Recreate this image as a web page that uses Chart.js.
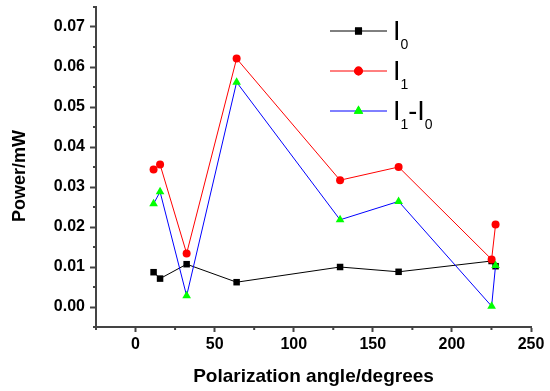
<!DOCTYPE html>
<html><head><meta charset="utf-8">
<script src="https://cdn.jsdelivr.net/npm/chart.js@4.4.1/dist/chart.umd.min.js"></script>
<style>html,body{margin:0;padding:0;background:#fff;}#wrap{width:550px;height:391px;position:relative;}</style>
</head><body><div id="wrap"><canvas id="c" width="550" height="391"></canvas></div>
<script>
// ---- data ----
const angles    = [11.4, 15.5, 32.3, 63.9, 129.3, 166.3, 225.1, 227.6];
const powerI0   = [0.0087, 0.0071, 0.0107, 0.0062, 0.0100, 0.0088, 0.0115, 0.0102];
const powerI1   = [0.0344, 0.0356, 0.0134, 0.0621, 0.0317, 0.0350, 0.0119, 0.0206];
const powerDiff = [0.0258, 0.0288, 0.0028, 0.0562, 0.0218, 0.0264, 0.0002, 0.0104];
const xTicks = [0, 50, 100, 150, 200, 250];
const xMinorTicks = [-25, 25, 75, 125, 175, 225];
const yTicks = [0, 0.01, 0.02, 0.03, 0.04, 0.05, 0.06, 0.07];
const yMinorTicks = [-0.005, 0.005, 0.015, 0.025, 0.035, 0.045, 0.055, 0.065, 0.075];
const xTitle = 'Polarization angle/degrees';
const yTitle = 'Power/mW';
// legend labels as [text, isSubscript] pieces
const legendLabels = [
  [['I', 0], ['0', 1]],
  [['I', 0], ['1', 1]],
  [['I', 0], ['1', 1], ['-', 0], ['I', 0], ['0', 1]]
];

const FONT = '"Liberation Sans", Arial, sans-serif';
const AXIS = '#444';

function pts(ys) { return angles.map((a, i) => ({x: a, y: ys[i]})); }

const datasets = [
  {label: 'I0', data: pts(powerI0), borderColor: '#000000', backgroundColor: '#000000',
   pointStyle: 'rect', pointRadius: 4.6, order: 3},
  {label: 'I1', data: pts(powerI1), borderColor: '#ff0000', backgroundColor: '#ff0000',
   pointStyle: 'circle', pointRadius: 4, order: 2},
  {label: 'I1-I0', data: pts(powerDiff), borderColor: '#0000ff', backgroundColor: '#00ff00',
   pointStyle: 'triangle', pointRadius: 5, order: 1}
].map(d => Object.assign({borderWidth: 1, tension: 0, pointBorderWidth: 0,
  pointBackgroundColor: d.backgroundColor, pointBorderColor: d.backgroundColor, clip: false}, d));

const extras = {
  id: 'extras',
  afterDraw(chart) {
    const ctx = chart.ctx;
    const xs = chart.scales.x, ys = chart.scales.y;
    const ca = chart.chartArea;
    ctx.save();
    // minor ticks
    ctx.strokeStyle = AXIS; ctx.lineWidth = 2;
    ctx.beginPath();
    xMinorTicks.forEach(v => { const p = xs.getPixelForValue(v); ctx.moveTo(p, ca.bottom); ctx.lineTo(p, ca.bottom + 3); });
    yMinorTicks.forEach(v => { const p = ys.getPixelForValue(v); ctx.moveTo(ca.left, p); ctx.lineTo(ca.left - 3, p); });
    ctx.stroke();
    // y title
    ctx.fillStyle = '#000';
    ctx.font = 'bold 18px ' + FONT;
    ctx.textAlign = 'center'; ctx.textBaseline = 'middle';
    ctx.translate(20, (ca.top + ca.bottom) / 2 + 9);
    ctx.rotate(-Math.PI / 2);
    ctx.fillText(yTitle, 0, 0);
    ctx.restore();
    // legend
    ctx.save();
    const x0 = 330, x1 = 387, rowY = [31, 71, 111];
    chart.data.datasets.forEach((ds, i) => {
      const y = rowY[i];
      ctx.strokeStyle = ds.borderColor; ctx.lineWidth = 1;
      ctx.beginPath(); ctx.moveTo(x0, y); ctx.lineTo(x1, y); ctx.stroke();
      ctx.fillStyle = ds.backgroundColor;
      Chart.helpers.drawPoint(ctx, {pointStyle: ds.pointStyle, radius: ds.pointRadius + 0.4, borderWidth: 0}, (x0 + x1) / 2, y);
      ctx.fill();
      let tx = 393;
      ctx.fillStyle = '#000'; ctx.textAlign = 'left'; ctx.textBaseline = 'alphabetic';
      legendLabels[i].forEach(([t, sub]) => {
        ctx.font = (sub ? '14px ' : '27px ') + FONT;
        ctx.fillText(t, tx, sub ? y + 18 : y + 9);
        tx += ctx.measureText(t).width;
      });
    });
    ctx.restore();
  }
};

function zeroPad(s) { s.paddingTop = 0; s.paddingBottom = 0; s.paddingLeft = 0; s.paddingRight = 0; }

new Chart(document.getElementById('c'), {
  type: 'line',
  data: {datasets},
  options: {
    responsive: false, animation: false, devicePixelRatio: 1,
    layout: {padding: {left: 0, right: 19, top: 7, bottom: 0}},
    plugins: {legend: {display: false}, tooltip: {enabled: false}},
    scales: {
      x: {
        type: 'linear', min: -25, max: 250,
        afterBuildTicks: s => { s.ticks = xTicks.map(v => ({value: v})); },
        afterFit: s => { s.height = 64; zeroPad(s); },
        grid: {drawOnChartArea: false, drawTicks: true, tickLength: 5, tickColor: AXIS, tickWidth: 2},
        border: {color: AXIS, width: 2},
        ticks: {font: {family: FONT, size: 16, weight: 'bold'}, color: '#000', padding: 3,
                maxRotation: 0, autoSkip: false, callback: v => String(v)},
        title: {display: true, text: xTitle, color: '#000', font: {family: FONT, size: 19, weight: 'bold'},
                padding: {top: 0, bottom: 3}}
      },
      y: {
        type: 'linear', min: -0.005, max: 0.075,
        afterBuildTicks: s => { s.ticks = yTicks.map(v => ({value: v})); },
        afterFit: s => { s.width = 96; zeroPad(s); },
        grid: {drawOnChartArea: false, drawTicks: true, tickLength: 6, tickColor: AXIS, tickWidth: 2},
        border: {color: AXIS, width: 2},
        ticks: {font: {family: FONT, size: 16, weight: 'bold'}, color: '#000', padding: 5,
                autoSkip: false, callback: v => v.toFixed(2)}
      }
    }
  },
  plugins: [extras]
});
</script></body></html>
